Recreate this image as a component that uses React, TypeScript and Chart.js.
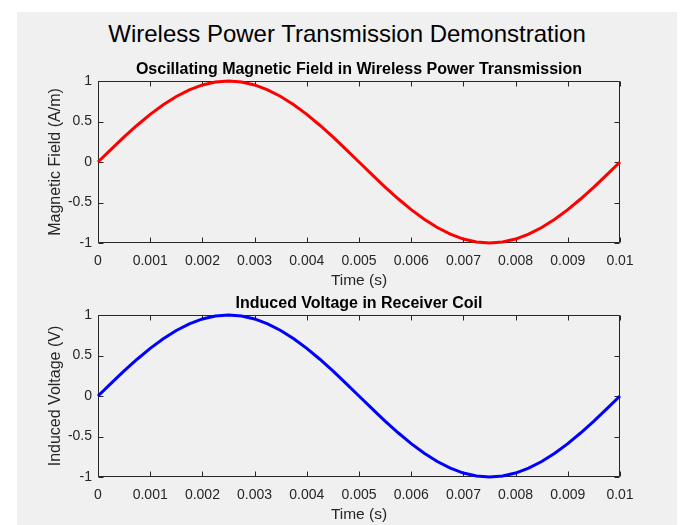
import React, { useEffect, useRef } from 'react';
import { Chart, registerables } from 'chart.js';

Chart.register(...registerables);

const TIME = [
  0, 0.00025, 0.0005, 0.00075, 0.001, 0.00125, 0.0015, 0.00175, 0.002, 0.00225,
  0.0025, 0.00275, 0.003, 0.00325, 0.0035, 0.00375, 0.004, 0.00425, 0.0045, 0.00475,
  0.005, 0.00525, 0.0055, 0.00575, 0.006, 0.00625, 0.0065, 0.00675, 0.007, 0.00725,
  0.0075, 0.00775, 0.008, 0.00825, 0.0085, 0.00875, 0.009, 0.00925, 0.0095, 0.00975,
  0.01,
];

const MAGNETIC_FIELD = [
  0, 0.156, 0.309, 0.454, 0.588, 0.707, 0.809, 0.891, 0.951, 0.988,
  1, 0.988, 0.951, 0.891, 0.809, 0.707, 0.588, 0.454, 0.309, 0.156,
  0, -0.156, -0.309, -0.454, -0.588, -0.707, -0.809, -0.891, -0.951, -0.988,
  -1, -0.988, -0.951, -0.891, -0.809, -0.707, -0.588, -0.454, -0.309, -0.156,
  0,
];

const INDUCED_VOLTAGE = [
  0, 0.156, 0.309, 0.454, 0.588, 0.707, 0.809, 0.891, 0.951, 0.988,
  1, 0.988, 0.951, 0.891, 0.809, 0.707, 0.588, 0.454, 0.309, 0.156,
  0, -0.156, -0.309, -0.454, -0.588, -0.707, -0.809, -0.891, -0.951, -0.988,
  -1, -0.988, -0.951, -0.891, -0.809, -0.707, -0.588, -0.454, -0.309, -0.156,
  0,
];

const X_TICKS = [0, 0.001, 0.002, 0.003, 0.004, 0.005, 0.006, 0.007, 0.008, 0.009, 0.01];
const Y_TICKS = [-1, -0.5, 0, 0.5, 1];

const MAIN_TITLE = 'Wireless Power Transmission Demonstration';
const TITLE_1 = 'Oscillating Magnetic Field in Wireless Power Transmission';
const TITLE_2 = 'Induced Voltage in Receiver Coil';
const X_LABEL = 'Time (s)';
const Y_LABEL_1 = 'Magnetic Field (A/m)';
const Y_LABEL_2 = 'Induced Voltage (V)';

const FONT = "'Liberation Sans', Arial, Helvetica, sans-serif";
const AXIS_COLOR = '#262626';
const CANVAS_W = 681;
const CANVAS_H = 300;
const TICK_LEN = 5;

const boxPlugin = {
  id: 'matlabBox',
  beforeDatasetsDraw(chart: any) {
    const { ctx, chartArea: a, scales } = chart;
    ctx.save();
    ctx.strokeStyle = AXIS_COLOR;
    ctx.lineWidth = 1;
    const L = Math.round(a.left) + 0.5;
    const R = Math.round(a.right) - 0.5;
    const T = Math.round(a.top) + 0.5;
    const B = Math.round(a.bottom) - 0.5;
    ctx.beginPath();
    ctx.rect(L, T, R - L, B - T);
    for (const t of scales.x.ticks) {
      const px = Math.round(scales.x.getPixelForValue(t.value)) + 0.5;
      ctx.moveTo(px, B);
      ctx.lineTo(px, B - TICK_LEN);
      ctx.moveTo(px, T);
      ctx.lineTo(px, T + TICK_LEN);
    }
    for (const t of scales.y.ticks) {
      const py = Math.round(scales.y.getPixelForValue(t.value)) + 0.5;
      ctx.moveTo(L, py);
      ctx.lineTo(L + TICK_LEN, py);
      ctx.moveTo(R, py);
      ctx.lineTo(R - TICK_LEN, py);
    }
    ctx.stroke();
    ctx.restore();
  },
};

function makeConfig(values: number[], color: string, title: string, yLabel: string): any {
  return {
    type: 'line',
    data: {
      datasets: [
        {
          data: TIME.map((t, i) => ({ x: t, y: values[i] })),
          borderColor: color,
          backgroundColor: color,
          borderWidth: 3,
          pointRadius: 0,
          fill: false,
          tension: 0,
          clip: false,
        },
      ],
    },
    options: {
      animation: false,
      responsive: false,
      events: [],
      layout: { padding: { left: 0, right: 61, top: 0, bottom: 7 } },
      plugins: {
        legend: { display: false },
        tooltip: { enabled: false },
        title: {
          display: true,
          text: title,
          fullSize: false,
          color: '#000000',
          font: { family: FONT, size: 16, weight: 'bold', lineHeight: 1.2 },
          padding: { top: 60, bottom: 1.8 },
        },
      },
      scales: {
        x: {
          type: 'linear',
          min: 0,
          max: 0.01,
          afterBuildTicks: (s: any) => {
            s.ticks = X_TICKS.map((v) => ({ value: v }));
          },
          afterFit: (s: any) => {
            s.height = 50;
          },
          grid: { display: false, drawTicks: false },
          border: { display: false },
          ticks: {
            color: AXIS_COLOR,
            font: { family: FONT, size: 14, lineHeight: 1.2 },
            padding: 9.5,
            maxRotation: 0,
            autoSkip: false,
            callback: (v: number) => String(v),
          },
          title: {
            display: true,
            text: X_LABEL,
            color: AXIS_COLOR,
            font: { family: FONT, size: 15.5, lineHeight: 1.2 },
            padding: { top: 0, bottom: 3.4 },
          },
        },
        y: {
          type: 'linear',
          min: -1,
          max: 1,
          afterBuildTicks: (s: any) => {
            s.ticks = Y_TICKS.map((v) => ({ value: v }));
          },
          afterFit: (s: any) => {
            s.width = 98;
          },
          grid: { display: false, drawTicks: false },
          border: { display: false },
          ticks: {
            color: AXIS_COLOR,
            font: { family: FONT, size: 14, lineHeight: 1.2 },
            padding: 6,
            autoSkip: false,
            callback: (v: number) => String(v),
          },
          title: {
            display: true,
            text: yLabel,
            color: AXIS_COLOR,
            font: { family: FONT, size: 16, lineHeight: 1.2 },
            padding: { top: 45.6, bottom: 0 },
          },
        },
      },
    },
    plugins: [boxPlugin],
  };
}

function Subplot(props: { values: number[]; color: string; title: string; yLabel: string; top: number }) {
  const ref = useRef<HTMLCanvasElement | null>(null);
  useEffect(() => {
    if (!ref.current) return;
    const chart = new Chart(ref.current, makeConfig(props.values, props.color, props.title, props.yLabel));
    return () => chart.destroy();
  }, []);
  return (
    <canvas
      ref={ref}
      width={CANVAS_W}
      height={CANVAS_H}
      style={{ position: 'absolute', left: 0, top: props.top, width: CANVAS_W, height: CANVAS_H }}
    />
  );
}

export default function App() {
  return (
    <div
      style={{
        position: 'fixed',
        left: 0,
        top: 0,
        width: 681,
        height: 525,
        overflow: 'hidden',
        background: '#ffffff',
      }}
    >
      <div style={{ position: 'absolute', left: 17, top: 12, width: 660, height: 513, background: '#f0f0f0' }} />
      <div
        style={{
          position: 'absolute',
          left: 17,
          top: 20,
          width: 660,
          textAlign: 'center',
          fontFamily: FONT,
          fontSize: 24,
          lineHeight: '28px',
          color: '#000000',
          whiteSpace: 'nowrap',
        }}
      >
        {MAIN_TITLE}
      </div>
      <Subplot values={MAGNETIC_FIELD} color="#ff0000" title={TITLE_1} yLabel={Y_LABEL_1} top={0} />
      <Subplot values={INDUCED_VOLTAGE} color="#0000ff" title={TITLE_2} yLabel={Y_LABEL_2} top={234} />
    </div>
  );
}
